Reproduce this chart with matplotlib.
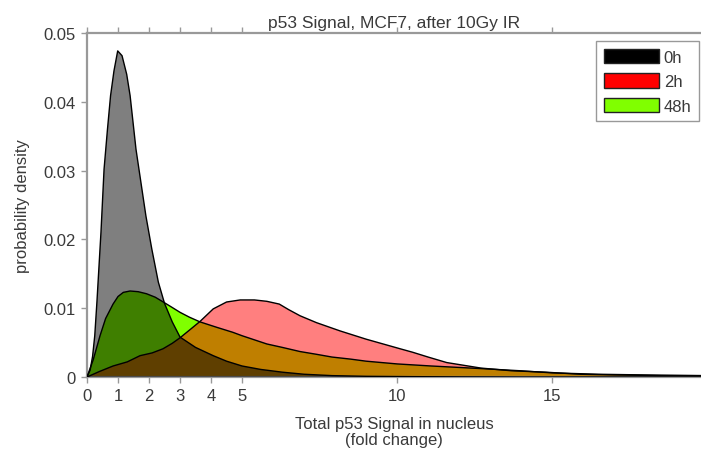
import matplotlib
matplotlib.use("Agg")
import matplotlib.pyplot as plt
from matplotlib.patches import Patch

plt.rcParams['font.family'] = ['Liberation Sans', 'DejaVu Sans']

title = "p53 Signal, MCF7, after 10Gy IR"
xlabel = "Total p53 Signal in nucleus\n(fold change)"
ylabel = "probability density"
series_labels = ["0h", "2h", "48h"]

x_0h = [0, 0.1, 0.18, 0.25, 0.32, 0.45, 0.55, 0.66, 0.76, 0.87, 0.99, 1.13, 1.28,
        1.39, 1.58, 1.9, 2.09, 2.3, 2.5, 2.75, 3.0, 3.5, 4.07, 4.5, 5.0, 5.6, 6.3,
        7.0, 7.9, 9.0, 10.5, 12, 14, 19.8]
y_0h = [0, 0.001, 0.003, 0.006, 0.0109, 0.021, 0.0302, 0.036, 0.0409, 0.0445, 0.0474,
        0.0467, 0.044, 0.0409, 0.0331, 0.0234, 0.0186, 0.0138, 0.0107, 0.0080, 0.0058,
        0.0043, 0.0031, 0.0023, 0.0016, 0.0011, 0.0007, 0.0004, 0.0002, 0.0001,
        0.00005, 0.00002, 0.0, 0.0]

x_2h = [0, 0.4, 0.84, 1.3, 1.71, 2.1, 2.45, 2.75, 3.0, 3.3, 3.65, 4.07, 4.5, 4.94,
        5.4, 5.8, 6.2, 6.5, 6.87, 7.4, 8.16, 9.0, 10.1, 10.5, 11.0, 11.6, 12.7, 13.7,
        14.8, 15.9, 17, 18.5, 19.8]
y_2h = [0, 0.0008, 0.0016, 0.0022, 0.0031, 0.0035, 0.0041, 0.0049, 0.0057, 0.0068,
        0.0081, 0.0099, 0.0109, 0.0112, 0.0112, 0.0110, 0.0106, 0.0098, 0.0089, 0.0079,
        0.0067, 0.0055, 0.0041, 0.0036, 0.0029, 0.0021, 0.0013, 0.0009, 0.0007, 0.0004,
        0.0003, 0.0002, 0.0002]

x_48h = [0, 0.2, 0.42, 0.6, 0.84, 1.0, 1.17, 1.39, 1.65, 1.92, 2.2, 2.46, 2.75, 3.0,
         3.3, 3.65, 4.2, 4.7, 5.0, 5.8, 6.3, 6.87, 7.4, 7.9, 8.5, 9.0, 10.0, 11.1, 12.8,
         14.0, 15.0, 16.5, 18.0, 19.8]
y_48h = [0, 0.0025, 0.006, 0.0085, 0.0106, 0.0117, 0.0123, 0.0125, 0.0124, 0.0121,
         0.0116, 0.0109, 0.0101, 0.0094, 0.0087, 0.0080, 0.0072, 0.0065, 0.0060, 0.0048,
         0.0043, 0.0037, 0.0033, 0.0029, 0.0026, 0.0023, 0.0019, 0.0016, 0.0012, 0.0009,
         0.0006, 0.0004, 0.0003, 0.0002]

xticks = [0, 1, 2, 3, 4, 5, 10, 15]
yticks = [0, 0.01, 0.02, 0.03, 0.04, 0.05]
ytick_labels = ["0", "0.01", "0.02", "0.03", "0.04", "0.05"]

fig = plt.figure(figsize=(7.01, 4.56), dpi=100)
ax = fig.add_axes([87/701, 1 - 378/456, 1 - 87/701, (378 - 34)/456])

green = "#80ff00"
# 48h opaque, then 2h and 0h semi-transparent on top
ax.fill_between(x_48h, y_48h, 0, facecolor=green, edgecolor="none", zorder=1)
ax.fill_between(x_2h, y_2h, 0, facecolor="red", alpha=0.5, edgecolor="none", zorder=2)
ax.fill_between(x_0h, y_0h, 0, facecolor="black", alpha=0.5, edgecolor="none", zorder=3)
for xs, ys in [(x_48h, y_48h), (x_2h, y_2h), (x_0h, y_0h)]:
    ax.plot(xs, ys, color="black", lw=1.0, zorder=4)

ax.set_xlim(0, 19.8)
ax.set_ylim(0, 0.05)
ax.set_xticks(xticks)
ax.set_xticklabels([str(t) for t in xticks])
ax.set_yticks(yticks)
ax.set_yticklabels(ytick_labels)

spine_c = "#999999"
for s in ["left", "bottom", "top"]:
    ax.spines[s].set_color(spine_c)
    ax.spines[s].set_linewidth(1.6)
ax.spines["right"].set_visible(False)
ax.tick_params(axis="both", direction="out", length=4, width=1, color=spine_c,
               labelsize=12, labelcolor="#3a3a3a", top=True, pad=4)

ax.set_title(title, fontsize=12.5, color="#3a3a3a", pad=4)
ax.set_xlabel(xlabel, fontsize=12, color="#3a3a3a", labelpad=9, linespacing=1.15)
ax.set_ylabel(ylabel, fontsize=12, color="#3a3a3a", labelpad=10)

handles = [Patch(facecolor="black", edgecolor="#222222"),
           Patch(facecolor="red", edgecolor="#222222"),
           Patch(facecolor=green, edgecolor="#222222")]
leg = ax.legend(handles, series_labels, loc="upper right",
                bbox_to_anchor=(699/701, 1 - 42/456), bbox_transform=fig.transFigure,
                borderaxespad=0, fancybox=False, framealpha=1, edgecolor="#999999",
                fontsize=12, handlelength=3.3, handleheight=1.0, labelspacing=0.5,
                handletextpad=0.3, borderpad=0.45)
for t in leg.get_texts():
    t.set_color("#3a3a3a")

fig.savefig("out.png", dpi=100)
